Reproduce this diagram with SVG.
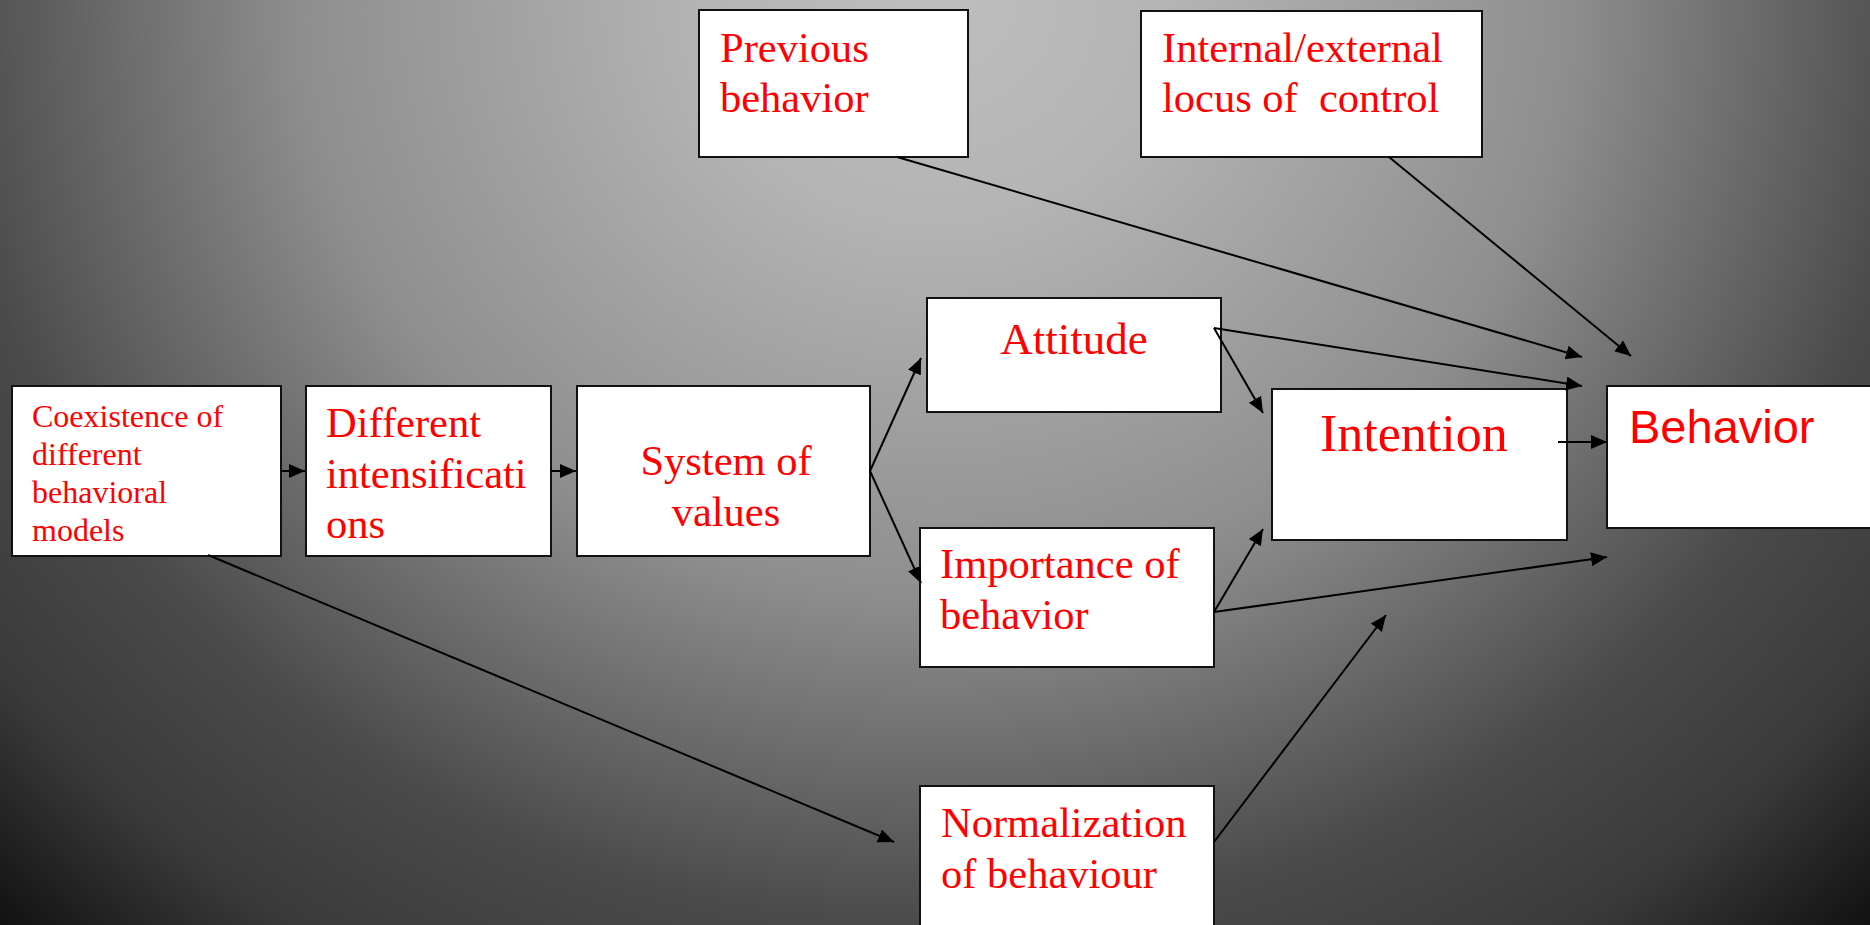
<svg xmlns="http://www.w3.org/2000/svg" width="1870" height="925" viewBox="0 0 1870 925">
<defs>
<radialGradient id="bg" gradientUnits="userSpaceOnUse" cx="935" cy="0" r="1400" gradientTransform="translate(935 0) scale(1 0.935) translate(-935 0)">
<stop offset="0" stop-color="#bebebe"/>
<stop offset="0.168" stop-color="#b4b4b4"/>
<stop offset="0.454" stop-color="#8e8e8e"/>
<stop offset="0.668" stop-color="#555555"/>
<stop offset="0.707" stop-color="#4a4a4a"/>
<stop offset="0.84" stop-color="#3a3a3a"/>
<stop offset="0.973" stop-color="#111111"/>
<stop offset="1" stop-color="#0e0e0e"/>
</radialGradient>
<marker id="ah" markerUnits="userSpaceOnUse" markerWidth="18" markerHeight="16" refX="16" refY="7" orient="auto">
<path d="M0,0 L16,7 L0,14 z" fill="#000"/>
</marker>
<style>
.box{fill:#fff;stroke:#111;stroke-width:2}
.t{font-family:"Liberation Serif","Times New Roman",serif;fill:#ff0000;font-size:42.5px}
.s{font-size:32px}
.a{font-family:"Liberation Sans",Arial,sans-serif}
.c{stroke:#000;stroke-width:2;fill:none;marker-end:url(#ah)}
</style>
</defs>
<rect x="0" y="0" width="1870" height="925" fill="url(#bg)"/>
<g id="n-coexistence">
<rect class="box" x="12" y="386" width="269" height="170"/>
<text class="t s" x="32" y="427">Coexistence of</text>
<text class="t s" x="32" y="465">different</text>
<text class="t s" x="32" y="503">behavioral</text>
<text class="t s" x="32" y="541">models</text>
</g>
<g id="n-different">
<rect class="box" x="306" y="386" width="245" height="170"/>
<text class="t" x="326" y="437">Different</text>
<text class="t" x="326" y="488">intensificati</text>
<text class="t" x="326" y="538">ons</text>
</g>
<g id="n-system">
<rect class="box" x="577" y="386" width="293" height="170"/>
<text class="t" x="726" y="475" text-anchor="middle">System of</text>
<text class="t" x="726" y="526" text-anchor="middle">values</text>
</g>
<g id="n-attitude">
<rect class="box" x="927" y="298" width="294" height="114"/>
<text class="t" x="1074" y="354" text-anchor="middle" style="font-size:45px">Attitude</text>
</g>
<g id="n-importance">
<rect class="box" x="920" y="528" width="294" height="139"/>
<text class="t" x="940" y="578">Importance of</text>
<text class="t" x="940" y="629">behavior</text>
</g>
<g id="n-normalization">
<rect class="box" x="920" y="786" width="294" height="160"/>
<text class="t" x="941" y="837">Normalization</text>
<text class="t" x="941" y="888">of behaviour</text>
</g>
<g id="n-intention">
<rect class="box" x="1272" y="389" width="295" height="151"/>
<text class="t" x="1320" y="451" style="font-size:52px">Intention</text>
</g>
<g id="n-behavior">
<rect class="box" x="1607" y="386" width="280" height="142"/>
<text class="t a" x="1629" y="443" style="font-size:47px">Behavior</text>
</g>
<g id="n-previous">
<rect class="box" x="699" y="10" width="269" height="147"/>
<text class="t" x="720" y="62">Previous</text>
<text class="t" x="720" y="112">behavior</text>
</g>
<g id="n-locus">
<rect class="box" x="1141" y="11" width="341" height="146"/>
<text class="t" x="1162" y="62">Internal/external</text>
<text class="t" x="1162" y="112" xml:space="preserve">locus of  control</text>
</g>
<g id="connectors">
<line class="c" x1="281" y1="471" x2="305" y2="471"/>
<line class="c" x1="551" y1="471" x2="576" y2="471"/>
<line class="c" x1="870" y1="471" x2="921" y2="358"/>
<line class="c" x1="870" y1="471" x2="921" y2="583"/>
<line class="c" x1="1214" y1="328" x2="1263" y2="413"/>
<line class="c" x1="1214" y1="328" x2="1582" y2="386"/>
<line class="c" x1="897" y1="157" x2="1582" y2="357"/>
<line class="c" x1="1389" y1="157" x2="1631" y2="356"/>
<line class="c" x1="1558" y1="442" x2="1607" y2="442"/>
<line class="c" x1="1214" y1="612" x2="1263" y2="529"/>
<line class="c" x1="1214" y1="612" x2="1607" y2="557"/>
<line class="c" x1="208" y1="555" x2="894" y2="842"/>
<line class="c" x1="1214" y1="842" x2="1386" y2="615"/>
</g>
</svg>
